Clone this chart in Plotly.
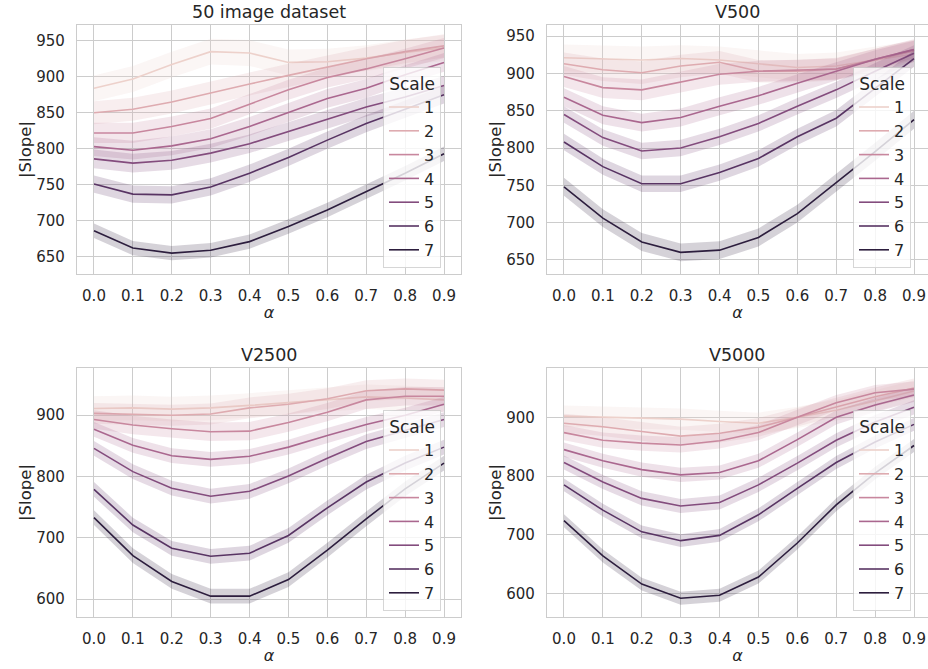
import math
import plotly.graph_objects as go

alpha_vals = [0.0, 0.1, 0.2, 0.3, 0.4, 0.5, 0.6, 0.7, 0.8, 0.9]
alpha_labels = ["0.0", "0.1", "0.2", "0.3", "0.4", "0.5", "0.6", "0.7", "0.8", "0.9"]
scales = [1, 2, 3, 4, 5, 6, 7]
panel_titles = ["50 image dataset", "V500", "V2500", "V5000"]

slope_50 = [
    [884, 897, 917, 935, 933, 920, 921, 926, 934, 940],
    [850, 855, 865, 878, 890, 902, 914, 925, 935, 943],
    [822, 822, 831, 842, 862, 882, 899, 911, 925, 940],
    [803, 798, 804, 814, 831, 851, 870, 884, 903, 920],
    [786, 780, 784, 794, 807, 824, 841, 858, 872, 888],
    [751, 737, 736, 747, 766, 788, 812, 835, 855, 875],
    [686, 662, 655, 659, 671, 692, 715, 740, 766, 793],
]
ci_50 = [18, 16, 14, 13, 13, 12, 10]

slope_v500 = [
    [921, 919, 918, 920, 918, 913, 908, 910, 918, 926],
    [913, 905, 901, 910, 915, 903, 903, 906, 918, 930],
    [896, 881, 878, 889, 899, 903, 904, 906, 919, 932],
    [868, 844, 834, 841, 856, 870, 887, 903, 919, 932],
    [845, 814, 796, 800, 815, 833, 856, 878, 903, 927],
    [808, 775, 752, 752, 767, 786, 815, 840, 880, 920],
    [748, 706, 674, 660, 663, 680, 712, 753, 795, 838],
]
ci_v500 = [18, 15, 14, 12, 11, 11, 12]

slope_v2500 = [
    [911, 912, 910, 912, 916, 921, 926, 930, 928, 925],
    [903, 902, 900, 902, 912, 918, 927, 940, 943, 941],
    [893, 884, 878, 873, 874, 888, 905, 925, 931, 931],
    [877, 851, 834, 828, 833, 848, 867, 885, 900, 918],
    [846, 808, 781, 768, 776, 801, 830, 857, 875, 893],
    [779, 721, 683, 670, 675, 704, 749, 791, 822, 848],
    [733, 671, 629, 605, 605, 632, 680, 731, 780, 822],
]
ci_v2500 = [20, 17, 15, 12, 12, 12, 12]

slope_v5000 = [
    [902, 900, 898, 897, 893, 890, 900, 912, 928, 945],
    [890, 884, 876, 868, 873, 883, 900, 918, 935, 950],
    [874, 861, 856, 853, 860, 874, 900, 925, 942, 948],
    [845, 826, 811, 802, 806, 826, 862, 900, 921, 938],
    [823, 790, 762, 749, 755, 785, 822, 861, 892, 917],
    [785, 742, 705, 690, 699, 734, 779, 823, 858, 888],
    [724, 664, 616, 592, 597, 628, 686, 751, 805, 852],
]
ci_v5000 = [18, 16, 13, 12, 12, 11, 11]

y_ticks_top = [650, 700, 750, 800, 850, 900, 950]
y_ticks_bottom = [600, 700, 800, 900]

panels = [
    (slope_50, ci_50),
    (slope_v500, ci_v500),
    (slope_v2500, ci_v2500),
    (slope_v5000, ci_v5000),
]

# ---- styling / layout (pixel geometry of 928x669 figure) ----
W, H = 928, 669
TXT = "#262626"
GRID = "#cccccc"
FONT = "DejaVu Sans"


def cubehelix(x, start=0.0, rot=0.4, gamma=1.0, hue=0.8):
    xg = x ** gamma
    a = hue * xg * (1 - xg) / 2
    phi = 2 * math.pi * (start / 3 + rot * x)
    out = []
    for p0, p1 in [(-0.14861, 1.78277), (-0.29227, -0.90649), (1.97294, 0.0)]:
        v = xg + a * (p0 * math.cos(phi) + p1 * math.sin(phi))
        out.append(int(round(min(max(v, 0), 1) * 255)))
    return out


def scale_color(s, alpha=1.0):
    pos = 0.85 - 0.70 * (s - scales[0]) / (scales[-1] - scales[0])
    r, g, b = cubehelix(pos)
    return f"rgba({r},{g},{b},{alpha})"


# axes boxes in pixels: (left, right, top, bottom)
boxes = [
    (77, 461, 25, 274),
    (547, 928, 25, 274),
    (77, 461, 368, 617),
    (547, 928, 368, 617),
]
x_ranges = [
    [-0.0437, 0.9437],
    [-0.0437, 0.9 + 14 / 389],
    [-0.0437, 0.9437],
    [-0.0437, 0.9 + 14 / 389],
]
y_ranges = [[626, 972], [631, 965], [571, 977], [560, 984]]
y_tick_sets = [y_ticks_top, y_ticks_top, y_ticks_bottom, y_ticks_bottom]
legend_pos = [(383, 67), (853, 67), (383, 410), (853, 410)]
title_y = [12, 12, 355, 355]

fig = go.Figure()
layout = dict(
    width=W,
    height=H,
    margin=dict(l=0, r=0, t=0, b=0, autoexpand=False),
    paper_bgcolor="white",
    plot_bgcolor="white",
    font=dict(family=FONT, color=TXT, size=15),
    showlegend=True,
    annotations=[],
)

for i, (data, ci) in enumerate(panels):
    k = "" if i == 0 else str(i + 1)
    xa, ya = "x" + k, "y" + k
    leg = "legend" + k
    for j, s in enumerate(scales):
        vals = data[j]
        upper = [v + ci[j] for v in vals]
        lower = [v - ci[j] for v in vals]
        fig.add_trace(go.Scatter(
            x=alpha_vals + alpha_vals[::-1],
            y=upper + lower[::-1],
            fill="toself",
            fillcolor=scale_color(s, 0.2),
            line=dict(width=0),
            mode="lines",
            hoverinfo="skip",
            showlegend=False,
            xaxis=xa, yaxis=ya,
        ))
        fig.add_trace(go.Scatter(
            x=alpha_vals, y=vals,
            mode="lines",
            line=dict(color=scale_color(s), width=1.6),
            name=str(s),
            legend=leg,
            showlegend=True,
            xaxis=xa, yaxis=ya,
        ))

    l, r, t, b = boxes[i]
    axis_common = dict(
        showgrid=True, gridcolor=GRID, gridwidth=1,
        showline=True, linecolor=GRID, linewidth=1.25, mirror=True,
        zeroline=False, ticks="", automargin=False,
        tickfont=dict(size=15, color=TXT, family=FONT),
    )
    layout["xaxis" + k] = dict(
        axis_common,
        domain=[l / W, r / W],
        anchor=ya,
        range=x_ranges[i],
        tickmode="array", tickvals=alpha_vals, ticktext=alpha_labels,
        ticklabelstandoff=8,
        title=dict(text="<i>α</i>", font=dict(size=16, color=TXT, family=FONT), standoff=2),
    )
    layout["yaxis" + k] = dict(
        axis_common,
        domain=[1 - b / H, 1 - t / H],
        anchor=xa,
        range=y_ranges[i],
        tickmode="array", tickvals=y_tick_sets[i],
        ticktext=[str(v) for v in y_tick_sets[i]],
        ticklabelstandoff=8,
        title=dict(text="|Slope|", font=dict(size=16.5, color=TXT, family=FONT), standoff=0),
    )
    lx, ly = legend_pos[i]
    layout[leg] = dict(
        x=lx / W, y=1 - ly / H, xanchor="left", yanchor="top",
        xref="paper", yref="paper",
        bgcolor="rgba(255,255,255,0.8)",
        bordercolor="rgba(204,204,204,0.8)", borderwidth=1,
        font=dict(size=16, color=TXT, family=FONT),
        title=dict(text="Scale", side="top center", font=dict(size=17, color=TXT, family=FONT)),
        itemwidth=30,
        tracegroupgap=0,
    )
    layout["annotations"].append(dict(
        text=panel_titles[i], xref="paper", yref="paper",
        x=(l + r) / 2 / W, y=1 - title_y[i] / H,
        xanchor="center", yanchor="middle", showarrow=False,
        font=dict(size=17.5, color=TXT, family=FONT),
    ))

fig.update_layout(**layout)
fig.write_html(
    "out.html",
    config={"displayModeBar": False},
    post_script="document.body.style.margin='0px';document.body.style.overflow='hidden';",
)
